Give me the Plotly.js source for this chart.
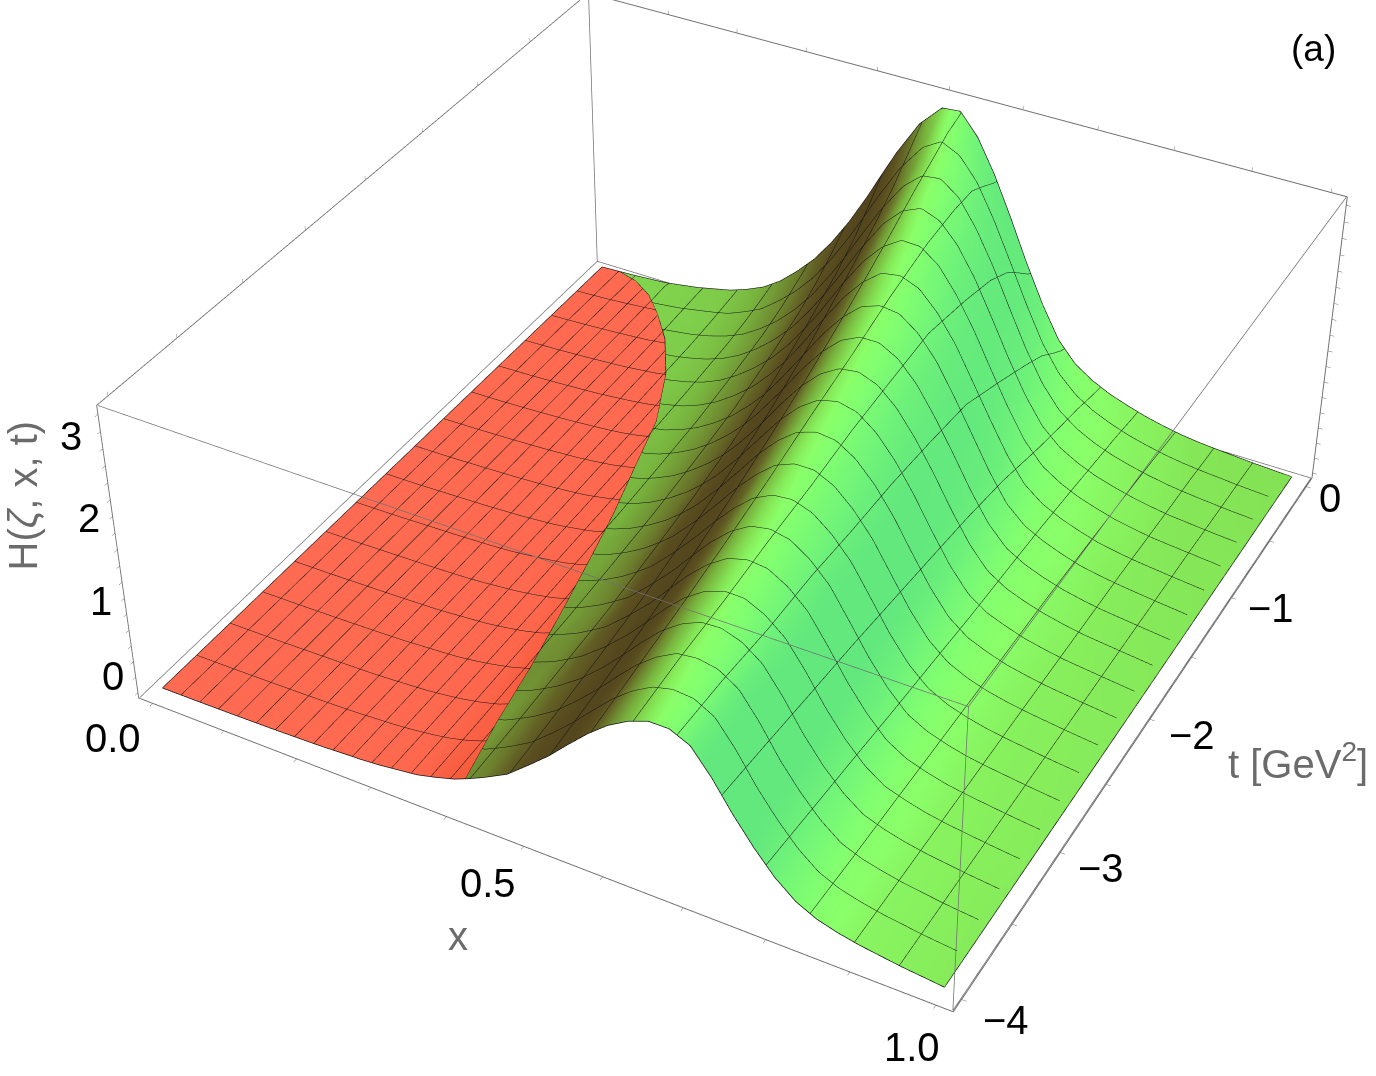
<!DOCTYPE html>
<html><head><meta charset="utf-8">
<script src="https://cdn.plot.ly/plotly-3.0.1.min.js"></script>
<style>html,body{margin:0;padding:0;width:1376px;height:1076px;overflow:hidden;background:#fff}
#wrap{position:absolute;left:0;top:0;width:1376px;height:1076px;overflow:hidden}
#plot{position:absolute}</style></head><body><div id="wrap"><div id="plot"></div></div>
<script>
const xs=[0,.05,.1,.15,.2,.225,.25,.275,.3,.325,.35,.375,.4,.42,.44,.47,.5,.525,.55,.575,.6,.625,.65,.675,.7,.725,.75,.775,.8,.825,.85,.875,.9,.95,1];
const ts=[0,-.05,-.15,-.3,-.5,-.8,-1.2,-1.6,-2,-2.4,-2.8,-3.2,-3.6,-4];
const boundaryX=[.027,.06,.095,.13,.17,.214,.257,.283,.31,.333,.355,.376,.393,.415];
const boundaryZ=[.01,.03,.055,.08,.105,.145,.18,.195,.22,.24,.26,.285,.295,.33];
const zRows=[
[0,.02,.05,.12,.22,.30,.40,.55,.75,.98,1.27,1.61,2.00,2.34,2.67,3.10,3.37,3.39,3.13,2.73,2.25,1.74,1.27,.87,.62,.47,.36,.28,.21,.155,.11,.08,.06,.025,0],
[0,.02,.07,.12,.21,.28,.38,.52,.71,.935,1.21,1.55,1.93,2.27,2.60,3.03,3.32,3.36,3.14,2.76,2.30,1.80,1.32,.91,.65,.49,.37,.285,.215,.16,.115,.085,.06,.025,0],
[0,.02,.06,.11,.20,.25,.35,.465,.65,.855,1.11,1.43,1.79,2.11,2.44,2.88,3.20,3.31,3.15,2.84,2.42,1.94,1.46,1.03,.72,.53,.40,.31,.23,.175,.125,.09,.065,.03,0],
[0,.02,.055,.10,.17,.22,.30,.40,.56,.745,.98,1.26,1.60,1.89,2.21,2.66,3.01,3.18,3.15,2.95,2.57,2.13,1.66,1.21,.85,.60,.45,.34,.26,.195,.145,.105,.08,.03,0],
[0,.02,.045,.08,.14,.19,.25,.34,.47,.635,.84,1.085,1.40,1.67,1.97,2.42,2.81,3.02,3.08,2.94,2.66,2.28,1.82,1.37,.97,.67,.49,.37,.28,.215,.16,.115,.08,.035,0],
[0,.015,.04,.07,.12,.16,.21,.28,.38,.525,.70,.91,1.17,1.42,1.68,2.12,2.51,2.75,2.89,2.87,2.69,2.38,2.00,1.57,1.16,.80,.56,.42,.315,.24,.175,.13,.09,.045,0],
[0,.01,.03,.055,.095,.12,.16,.21,.29,.395,.54,.71,.93,1.13,1.37,1.76,2.15,2.42,2.62,2.69,2.65,2.47,2.19,1.81,1.41,1.01,.67,.47,.355,.265,.19,.145,.11,.05,0],
[0,.01,.025,.045,.075,.10,.13,.175,.23,.32,.43,.58,.76,.93,1.13,1.47,1.85,2.13,2.35,2.48,2.50,2.40,2.18,1.87,1.51,1.12,.77,.51,.37,.28,.21,.155,.11,.055,0],
[0,.005,.02,.035,.06,.08,.10,.14,.185,.25,.345,.47,.62,.77,.94,1.25,1.59,1.88,2.12,2.29,2.36,2.32,2.16,1.91,1.58,1.20,.84,.55,.38,.29,.21,.16,.115,.055,0],
[0,.005,.018,.03,.05,.065,.09,.12,.155,.21,.285,.39,.52,.65,.795,1.07,1.38,1.65,1.89,2.09,2.19,2.20,2.10,1.90,1.63,1.27,.91,.61,.41,.29,.215,.16,.12,.055,0],
[0,.005,.015,.025,.04,.055,.075,.095,.13,.17,.23,.32,.43,.54,.655,.91,1.18,1.445,1.70,1.91,2.06,2.11,2.07,1.92,1.69,1.34,.98,.675,.43,.30,.22,.16,.12,.055,0],
[0,.004,.012,.022,.036,.05,.065,.08,.11,.15,.20,.27,.37,.47,.58,.79,1.04,1.28,1.53,1.75,1.91,2.00,2.00,1.89,1.70,1.39,1.03,.725,.48,.31,.23,.165,.12,.055,0],
[0,.003,.01,.02,.03,.04,.055,.07,.095,.125,.17,.23,.31,.40,.50,.68,.92,1.14,1.38,1.61,1.79,1.92,1.95,1.91,1.76,1.45,1.08,.775,.52,.33,.23,.17,.12,.05,0],
[0,.003,.008,.016,.028,.036,.05,.06,.08,.11,.14,.20,.27,.35,.44,.59,.82,1.02,1.25,1.47,1.66,1.80,1.89,1.89,1.78,1.49,1.14,.83,.56,.36,.24,.17,.12,.05,0]
];
const xRange=[-.02,1.02], tRange=[-4.08,.08], zRange=[-.07,3.5];
const xTicks=[0,.1,.2,.3,.4,.5,.6,.7,.8,.9,1];
const xLabelVals=[0,.5,1], xLabelText=['0.0','0.5','1.0'];
const tTicks=[-4,-3.5,-3,-2.5,-2,-1.5,-1,-.5,0];
const tLabelVals=[-4,-3,-2,-1,0], tLabelText=['\u22124','\u22123','\u22122','\u22121','0'];
const zTicks=[0,.2,.4,.6,.8,1,1.2,1.4,1.6,1.8,2,2.2,2.4,2.6,2.8,3,3.2,3.4];
const zLabelVals=[0,1,2,3], zLabelText=['0','1','2','3'];
const W=1500,H=2763,CX=750,CY=444;
const el=document.getElementById('plot');
const LEFT=CX-W/2,TOP=CY-H/2;
el.style.left=LEFT+'px';el.style.top=TOP+'px';el.style.width=W+'px';el.style.height=H+'px';
const px=p=>(p-LEFT)/W, py=p=>1-(p-TOP)/H;
const field=zRows.map(r=>{const A=Math.max(...r);return r.map((v,i)=>{const a=Math.max(i-1,0),b=Math.min(i+1,r.length-1);
  return ((r[b]-r[a])/(xs[b]-xs[a])-1.5*v)/A;});});
const redX=[],redZ=[],redC=[],grnX=[],grnZ=[],grnC=[];
zRows.forEach((r,j)=>{const xb=boundaryX[j],zb=boundaryZ[j];
  let ib=0;xs.forEach((v,i)=>{if(v<=xb)ib=i;});
  redX.push(xs.map((v,i)=>i<=ib?v:xb));redZ.push(r.map((v,i)=>i<=ib?v:zb));redC.push(r.map((v,i)=>field[j][Math.min(i,ib)]));
  grnX.push(xs.map((v,i)=>i>ib?v:xb));grnZ.push(r.map((v,i)=>i>ib?v:zb));grnC.push(r.map((v,i)=>field[j][Math.max(i,ib+1)]));
});
const rowsY=ts.map(t=>xs.map(()=>t));
const I=v=>(v+7)/11;
const greenScale=[[0,'rgb(98,232,125)'],[I(-5),'rgb(115,245,120)'],[I(-3),'rgb(130,255,112)'],[I(-1.5),'rgb(138,255,105)'],[I(-.6),'rgb(135,238,92)'],[I(0),'rgb(130,222,82)'],[I(.6),'rgb(126,200,72)'],[I(1.2),'rgb(120,180,62)'],[I(2),'rgb(112,140,50)'],[I(2.7),'rgb(100,100,38)'],[I(3.3),'rgb(90,78,32)'],[1,'rgb(82,68,28)']];
const redScale=[[0,'rgb(255,107,82)'],[.35,'rgb(255,103,76)'],[.7,'rgb(245,88,58)'],[1,'rgb(232,76,44)']];
const light={ambient:1,diffuse:0,specular:0,fresnel:0,roughness:1};
const ln='rgb(20,20,20)';
const contours=(dx,dt)=>({x:{show:true,start:0,end:1,size:dx,color:ln,width:3,highlight:false},y:{show:true,start:-4,end:0,size:dt,color:ln,width:3,highlight:false},z:{show:false,highlight:false}});
const edge=(a,b,c,col,w)=>({type:'scatter3d',mode:'lines',x:a,y:b,z:c,line:{color:col||'#111',width:w||1.5},hoverinfo:'skip',showlegend:false});
const boxCol='#707070';
const x0=xRange[0]+.001,x1=xRange[1]-.001,t0=tRange[0]+.004,t1=tRange[1]-.004,z0=zRange[0]+.004,z1=zRange[1]-.004;
const data=[
 {type:'surface',x:redX,y:rowsY,z:redZ,surfacecolor:redC,cmin:0,cmax:2.5,colorscale:redScale,showscale:false,lighting:light,contours:contours(1/38,4/15),hoverinfo:'skip'},
 {type:'surface',x:grnX,y:rowsY,z:grnZ,surfacecolor:grnC,cmin:-7,cmax:4,colorscale:greenScale,showscale:false,lighting:light,contours:contours(1/19,4/19),hoverinfo:'skip'},
 edge(xs,xs.map(()=>ts[0]),zRows[0]),
 edge(xs,xs.map(()=>ts[ts.length-1]),zRows[ts.length-1]),
 edge(ts.map(()=>0),ts,zRows.map(r=>r[0])),
 edge(ts.map(()=>1),ts,zRows.map(r=>r[r.length-1])),
 edge(boundaryX,ts,boundaryZ),
 edge([x0,x1,x1],[t0,t0,t1],[z1,z1,z1],boxCol,1.5),
 edge([x1,x1],[t0,t0],[z0,z1],boxCol,1.5),
 edge([x0,x0],[t1,t1],[z0,z1],boxCol,1.5),
 edge([x0,x1,x1],[t1,t1,t0],[z0,z0,z0],boxCol,1.5),
 edge([x0,x0],[t0,t1],[z0,z0],boxCol,1.5)
];
const axis=(range,vals)=>({range,tickmode:'array',tickvals:vals,showticklabels:false,title:{text:''},showgrid:false,zeroline:false,showbackground:false,showline:true,mirror:'all',linecolor:boxCol,linewidth:2,ticks:'outside',ticklen:4,tickcolor:boxCol,tickwidth:1,showspikes:false});
const FONT='Liberation Sans, Arial, sans-serif';
const note=(text,x,y,o)=>Object.assign({text,x:px(x),y:py(y),xref:'paper',yref:'paper',showarrow:false,xanchor:'center',yanchor:'middle',font:{family:FONT,size:40,color:'#6b6b6b'}},o||{});
const tickNote=(text,x,y,z,dx,dy)=>({text,x,y,z,showarrow:false,xanchor:'center',yanchor:'middle',xshift:dx,yshift:dy,font:{family:FONT,size:40,color:'#000'}});
const xShift=[[-40,-35],[-36,-37],[-24,-42]];
const tShift=[[44,-21],[41,-15],[42,-16],[39,-10],[24,-11]];
const zShift=[[-25,17],[-26,13],[-26,15],[-32,13]];
const sceneNotes=[
 ...xLabelVals.map((v,i)=>tickNote(xLabelText[i],v,tRange[0],zRange[0],xShift[i][0],xShift[i][1])),
 ...tLabelVals.map((v,i)=>tickNote(tLabelText[i],xRange[1],v,zRange[0],tShift[i][0],tShift[i][1])),
 ...zLabelVals.map((v,i)=>tickNote(zLabelText[i],xRange[0],tRange[0],v,zShift[i][0],zShift[i][1]))
];
const layout={width:W,height:H,margin:{l:0,r:0,t:0,b:0},paper_bgcolor:'#fff',showlegend:false,
 scene:{domain:{x:[0,1],y:[0,1]},aspectmode:'manual',aspectratio:{x:1,y:1,z:.40},
  camera:{eye:{x:1.43,y:-2.645,z:2.225},center:{x:0,y:0,z:0},up:{x:0,y:0,z:1},projection:{type:'perspective'}},
  xaxis:axis(xRange,xTicks),yaxis:axis(tRange,tTicks),zaxis:axis(zRange,zTicks),annotations:sceneNotes},
 annotations:[note('x',458,935),note('t [GeV<sup>2</sup>]',1298,760),note('H(<i>\u03B6</i>, x, t)',22,495,{textangle:-90}),note('(a)',1313,48,{font:{family:FONT,size:37,color:'#000'}})]
};
Plotly.newPlot('plot',data,layout,{displayModeBar:false,responsive:false});
</script></body></html>
